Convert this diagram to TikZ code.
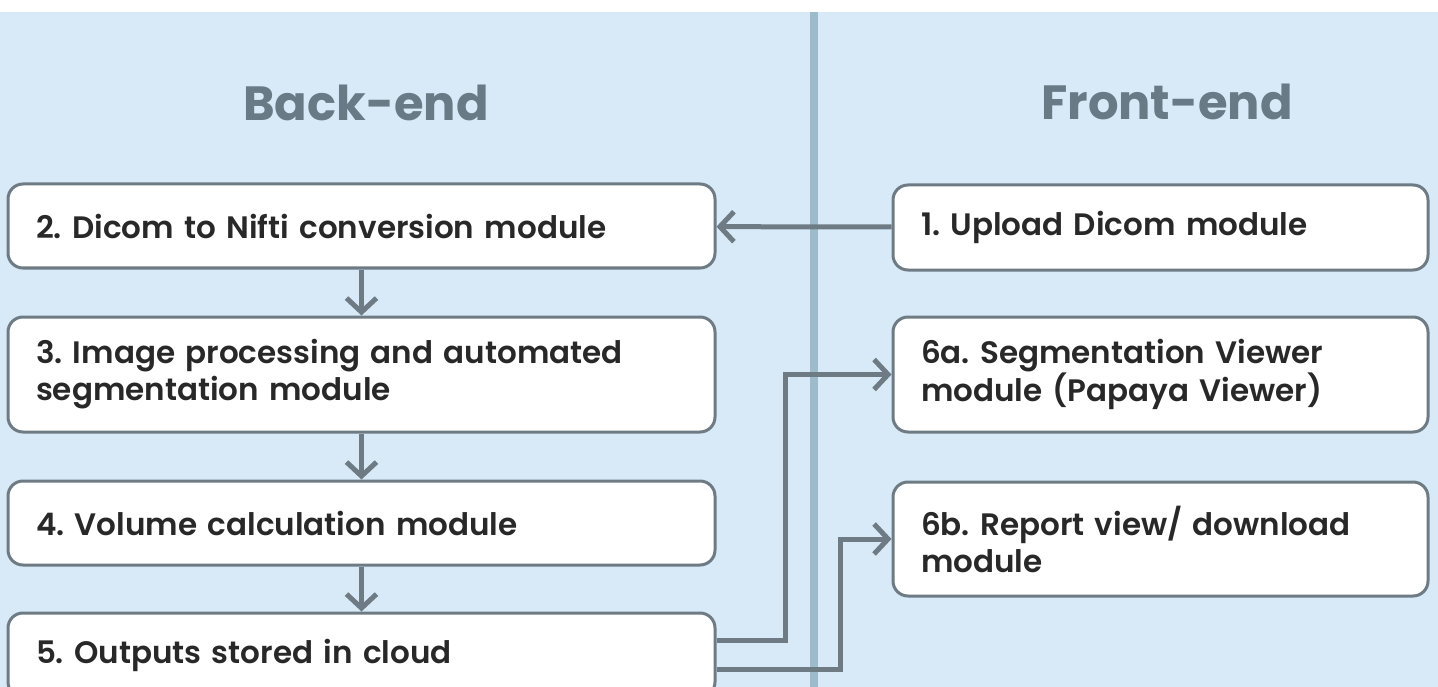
\documentclass[tikz,border=0pt]{standalone}
\usepackage{fontspec}
\setmainfont{Poppins}
\IfFontExistsTF{Poppins SemiBold}
	{\newfontfamily\boxfont{Poppins SemiBold}}
	{\newfontfamily\boxfont{Poppins}}
\usetikzlibrary{arrows.meta}

\definecolor{panelblue}{HTML}{D8EAF7}
\definecolor{divider}{HTML}{9DBBCB}
\definecolor{headgray}{HTML}{687A86}
\definecolor{linegray}{HTML}{6E7B84}
\definecolor{textdark}{HTML}{282828}

\begin{document}
\frenchspacing
\begin{tikzpicture}[
			x=1pt, y=-1pt,
			module/.style={
				draw=linegray,
				line width=3pt,
				fill=white,
				rounded corners=15pt,
				align=left,
				text=textdark,
				inner xsep=28pt,
				font=\boxfont\fontsize{31}{37}\selectfont
			},
			header/.style={
				text=headgray,
				font=\bfseries\fontsize{48}{54}\selectfont
			},
			flow/.style={
				draw=linegray,
				line width=5pt,
				-{Straight Barb[length=14pt,width=30pt]}
			}
			]

			% Background and divider
			\useasboundingbox (0,0) rectangle (1438,687);
			\fill[white] (0,0) rectangle (1438,687);
			\fill[panelblue] (0,12) rectangle (1438,687);
			\draw[divider, line width=8pt] (814,12) -- (814,687);

			% Headers
			\node[header] (hback) at (366,103) {Back-end};
			\node[header] (hfront) at (1167,102) {Front-end};

			% Back-end modules
			\node[module, minimum width=707pt, minimum height=84pt, text width=651pt] (b2) at (361.5,226)
			{2. Dicom to Nifti conversion module};
			\node[module, minimum width=707pt, minimum height=115pt, text width=651pt] (b3) at (361.5,374.5)
			{3. Image processing and automated\\segmentation module};
			\node[module, minimum width=707pt, minimum height=84pt, text width=651pt] (b4) at (361.5,523)
			{4. Volume calculation module};
			\node[module, minimum width=707pt, minimum height=84pt, text width=651pt] (b5) at (361.5,655)
			{5. Outputs stored in cloud};

			% Front-end modules
			\node[module, minimum width=535pt, minimum height=85pt, text width=479pt] (f1) at (1160.5,227.5)
			{1. Upload Dicom module};
			\node[module, minimum width=535pt, minimum height=115pt, text width=479pt] (f6a) at (1160.5,374.5)
			{6a. Segmentation Viewer\\module (Papaya Viewer)};
			\node[module, minimum width=535pt, minimum height=114pt, text width=479pt] (f6b) at (1160.5,539)
			{6b. Report view/ download\\module};

			% Connections
			\draw[flow] (f1) -- (b2);
			\draw[flow] (b2) -- (b3);
			\draw[flow] (b3) -- (b4);
			\draw[flow] (b4) -- (b5);
			\draw[flow] ([yshift=15pt]b5.east) -| ([xshift=-106pt]f6a.west) -- (f6a.west);
			\draw[flow] ([yshift=-14pt]b5.east) -| ([xshift=-51pt]f6b.west) -- (f6b.west);

		\end{tikzpicture}
\end{document}
